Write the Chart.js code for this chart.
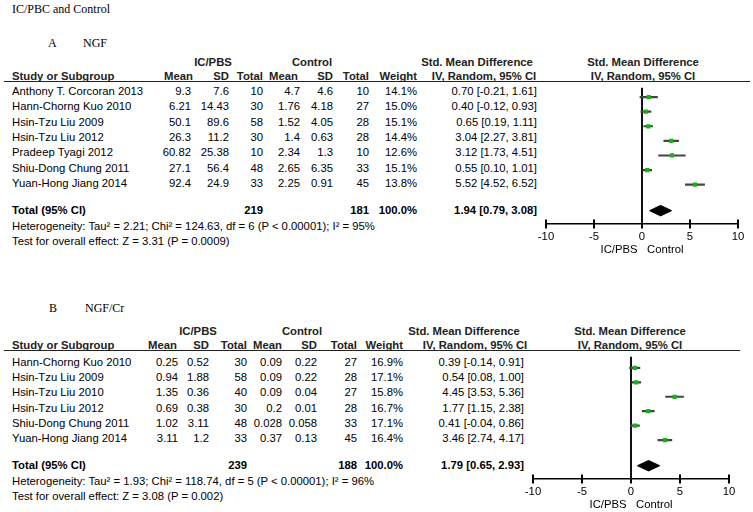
<!DOCTYPE html>
<html>
<head>
<meta charset="utf-8">
<script src="https://cdn.jsdelivr.net/npm/chart.js@4.4.1/dist/chart.umd.min.js"></script>
<style>
  html, body { margin: 0; padding: 0; background: #fff; overflow: hidden; }
  #page { position: relative; width: 753px; height: 512px; overflow: hidden;
          font-family: Arial, "Liberation Sans", sans-serif; font-size: 11.3px; color: #000; }
  .t { position: absolute; white-space: pre; line-height: 14px; height: 14px; }
  .serif { font-family: "Times New Roman", "Liberation Serif", serif; font-size: 12px; }
  .b { font-weight: bold; }
  .h { font-weight: bold; color: #222; }
  .rule { position: absolute; height: 0; border-top: 1px solid #222; }
  canvas { position: absolute; }
</style>
</head>
<body>
<div id="page"></div>
<script>
// Panel A - NGF
const studiesA = ['Anthony T. Corcoran 2013', 'Hann-Chorng Kuo 2010', 'Hsin-Tzu Liu 2009', 'Hsin-Tzu Liu 2012',
                  'Pradeep Tyagi 2012', 'Shiu-Dong Chung 2011', 'Yuan-Hong Jiang 2014'];
const icMeanA = [9.3, 6.21, 50.1, 26.3, 60.82, 27.1, 92.4];
const icSdA = [7.6, 14.43, 89.6, 11.2, 25.38, 56.4, 24.9];
const icNA = [10, 30, 58, 30, 10, 48, 33];
const ctMeanA = [4.7, 1.76, 1.52, 1.4, 2.34, 2.65, 2.25];
const ctSdA = [4.6, 4.18, 4.05, 0.63, 1.3, 6.35, 0.91];
const ctNA = [10, 27, 28, 28, 10, 33, 45];
const weightA = [14.1, 15.0, 15.1, 14.4, 12.6, 15.1, 13.8];
const smdA = [0.70, 0.40, 0.65, 3.04, 3.12, 0.55, 5.52];
const loA = [-0.21, -0.12, 0.19, 2.27, 1.73, 0.10, 4.52];
const hiA = [1.61, 0.93, 1.11, 3.81, 4.51, 1.01, 6.52];
const totalA = { icN: 219, ctN: 181, smd: 1.94, lo: 0.79, hi: 3.08 };
const hetA = 'Heterogeneity: Tau\u00b2 = 2.21; Chi\u00b2 = 124.63, df = 6 (P < 0.00001); I\u00b2 = 95%';
const testA = 'Test for overall effect: Z = 3.31 (P = 0.0009)';

// Panel B - NGF/Cr
const studiesB = ['Hann-Chorng Kuo 2010', 'Hsin-Tzu Liu 2009', 'Hsin-Tzu Liu 2010', 'Hsin-Tzu Liu 2012',
                  'Shiu-Dong Chung 2011', 'Yuan-Hong Jiang 2014'];
const icMeanB = [0.25, 0.94, 1.35, 0.69, 1.02, 3.11];
const icSdB = [0.52, 1.88, 0.36, 0.38, 3.11, 1.2];
const icNB = [30, 58, 40, 30, 48, 33];
const ctMeanB = [0.09, 0.09, 0.09, 0.2, 0.028, 0.37];
const ctSdB = [0.22, 0.22, 0.04, 0.01, 0.058, 0.13];
const ctNB = [27, 28, 27, 28, 33, 45];
const weightB = [16.9, 17.1, 15.8, 16.7, 17.1, 16.4];
const smdB = [0.39, 0.54, 4.45, 1.77, 0.41, 3.46];
const loB = [-0.14, 0.08, 3.53, 1.15, -0.04, 2.74];
const hiB = [0.91, 1.00, 5.36, 2.38, 0.86, 4.17];
const totalB = { icN: 239, ctN: 188, smd: 1.79, lo: 0.65, hi: 2.93 };
const hetB = 'Heterogeneity: Tau\u00b2 = 1.93; Chi\u00b2 = 118.74, df = 5 (P < 0.00001); I\u00b2 = 96%';
const testB = 'Test for overall effect: Z = 3.08 (P = 0.002)';

const xTicks = [-10, -5, 0, 5, 10];

Chart.defaults.font.family = 'Arial, "Liberation Sans", sans-serif';
Chart.defaults.font.size = 11.3;
Chart.defaults.color = '#000';

const page = document.getElementById('page');

function txt(x, y, s, align, cls) {
    const d = document.createElement('div');
    d.className = 't ' + (cls || '');
    d.textContent = s;
    d.style.left = x + 'px';
    d.style.top = (y - 7) + 'px';
    if (align === 'r') d.style.transform = 'translateX(-100%)';
    if (align === 'c') d.style.transform = 'translateX(-50%)';
    page.appendChild(d);
}

function rule(x1, x2, y) {
    const d = document.createElement('div');
    d.className = 'rule';
    d.style.left = x1 + 'px';
    d.style.width = (x2 - x1) + 'px';
    d.style.top = y + 'px';
    page.appendChild(d);
}

const ci = (m, l, h) => m.toFixed(2) + ' [' + l.toFixed(2) + ', ' + h.toFixed(2) + ']';

function panel(p, d) {
    // headers
    txt(p.groupX[0], p.lineY - 19, 'IC/PBS', 'c', 'h');
    txt(p.groupX[1], p.lineY - 19, 'Control', 'c', 'h');
    txt(p.smdX, p.lineY - 19, 'Std. Mean Difference', 'c', 'h');
    txt(p.plotX, p.lineY - 19, 'Std. Mean Difference', 'c', 'h');
    txt(12, p.lineY - 5, 'Study or Subgroup', 'l', 'h');
    ['Mean', 'SD', 'Total', 'Mean', 'SD', 'Total', 'Weight'].forEach((h, i) => txt(p.headR[i], p.lineY - 5, h, 'r', 'h'));
    txt(p.ciHeadX, p.lineY - 5, 'IV, Random, 95% CI', 'c', 'h');
    txt(p.plotX, p.lineY - 5, 'IV, Random, 95% CI', 'c', 'h');
    rule(4, p.ruleEnd, p.lineY);

    // study rows
    d.studies.forEach((s, i) => {
        const y = p.rowY0 + i * p.step;
        txt(12, y, s, 'l');
        [d.icMean[i], d.icSd[i], d.icN[i], d.ctMean[i], d.ctSd[i], d.ctN[i]]
            .forEach((v, k) => txt(p.colR[k], y, String(v), 'r'));
        txt(p.colR[6], y, d.weight[i].toFixed(1) + '%', 'r');
        txt(p.colR[7], y, ci(d.smd[i], d.lo[i], d.hi[i]), 'r');
    });
    txt(12, p.totalY, 'Total (95% CI)', 'l', 'b');
    txt(p.colR[2], p.totalY, String(d.total.icN), 'r', 'b');
    txt(p.colR[5], p.totalY, String(d.total.ctN), 'r', 'b');
    txt(p.colR[6], p.totalY, '100.0%', 'r', 'b');
    txt(p.colR[7], p.totalY, ci(d.total.smd, d.total.lo, d.total.hi), 'r', 'b');
    txt(12, p.totalY + 16, d.het, 'l');
    txt(12, p.totalY + 31, d.test, 'l');

    // forest plot
    const chartH = p.axisY - p.lineY;
    const cv = document.createElement('canvas');
    const cw = 753 - p.canvasLeft;
    cv.width = cw;
    cv.height = chartH + 37;
    cv.style.left = p.canvasLeft + 'px';
    cv.style.top = p.lineY + 'px';
    page.appendChild(cv);

    const yMin = -(p.rowY0 - p.lineY) / p.step;
    const yMax = yMin + chartH / p.step;
    const tRow = (p.totalY - p.rowY0) / p.step;
    const hh = 5.5 / p.step;
    const t = d.total;

    new Chart(cv, {
        type: 'scatter',
        data: {
            datasets: [
                {
                    type: 'scatter', order: 0,
                    data: d.smd.map((v, i) => ({ x: v, y: i })),
                    pointStyle: 'rect', pointRadius: 3, borderWidth: 0,
                    backgroundColor: '#12b312'
                },
                {
                    type: 'bar', order: 1, indexAxis: 'y',
                    data: d.lo.map((v, i) => ({ x: [v, d.hi[i]], y: i })),
                    backgroundColor: '#444', barThickness: 1.5, borderWidth: 0
                },
                {
                    type: 'scatter', order: 2, showLine: true, fill: 'shape', tension: 0,
                    data: [{ x: t.lo, y: tRow }, { x: t.smd, y: tRow - hh }, { x: t.hi, y: tRow },
                           { x: t.smd, y: tRow + hh }, { x: t.lo, y: tRow }],
                    borderColor: '#000', backgroundColor: '#000', borderWidth: 1, pointRadius: 0
                },
                {
                    // line of no effect
                    type: 'scatter', order: 3, showLine: true,
                    data: [{ x: 0, y: yMin }, { x: 0, y: yMax }],
                    borderColor: '#111', borderWidth: 2, pointRadius: 0
                },
                {
                    // tick marks crossing the axis line
                    type: 'scatter', order: 4, clip: false,
                    data: xTicks.map(v => ({ x: v, y: yMax })),
                    pointStyle: 'line', rotation: 90, pointRadius: 4.5,
                    borderColor: '#000', borderWidth: 2
                }
            ]
        },
        options: {
            responsive: false,
            animation: false,
            events: [],
            layout: { padding: { left: p.padL, right: cw - p.padL - p.plotW, top: 0, bottom: 0 } },
            plugins: { legend: { display: false }, tooltip: { enabled: false } },
            scales: {
                x: {
                    type: 'linear', min: -10, max: 10, offset: false,
                    afterBuildTicks: s => { s.ticks = xTicks.map(v => ({ value: v })); },
                    afterFit: s => { s.height = 37; },
                    ticks: { padding: 2, color: '#000', font: { size: 11.3 } },
                    grid: { drawOnChartArea: false, drawTicks: true, tickLength: 4, tickColor: 'rgba(0,0,0,0)' },
                    border: { display: true, color: '#000', width: 1.5 },
                    title: { display: true, text: 'IC/PBS   Control', color: '#000',
                             font: { size: 11.3 }, padding: { top: 0, bottom: 4 } }
                },
                y: { type: 'linear', reverse: true, min: yMin, max: yMax, offset: false, display: false }
            }
        }
    });
}

txt(12, 9, 'IC/PBC and Control', 'l', 'serif');
txt(48, 43, 'A', 'l', 'serif');
txt(83, 43, 'NGF', 'l', 'serif');
txt(49, 308, 'B', 'l', 'serif');
txt(85, 308, 'NGF/Cr', 'l', 'serif');

panel({
    lineY: 81, rowY0: 91, step: 15.3, totalY: 210, axisY: 224,
    groupX: [213, 312], smdX: 477, plotX: 643, ciHeadX: 484,
    headR: [193, 229, 263, 298, 333, 369, 417],
    colR: [191, 229, 263, 300, 333, 369, 417, 537],
    ruleEnd: 750, canvasLeft: 530, padL: 16, plotW: 192
}, {
    studies: studiesA, icMean: icMeanA, icSd: icSdA, icN: icNA, ctMean: ctMeanA, ctSd: ctSdA,
    ctN: ctNA, weight: weightA, smd: smdA, lo: loA, hi: hiA, total: totalA, het: hetA, test: testA
});

panel({
    lineY: 350, rowY0: 362, step: 15.2, totalY: 465, axisY: 479,
    groupX: [198, 302], smdX: 464, plotX: 630, ciHeadX: 475,
    headR: [177, 209, 247, 282, 317, 357, 403],
    colR: [178, 209, 247, 282, 317, 357, 403, 524],
    ruleEnd: 740, canvasLeft: 517, padL: 16, plotW: 196
}, {
    studies: studiesB, icMean: icMeanB, icSd: icSdB, icN: icNB, ctMean: ctMeanB, ctSd: ctSdB,
    ctN: ctNB, weight: weightB, smd: smdB, lo: loB, hi: hiB, total: totalB, het: hetB, test: testB
});
</script>
</body>
</html>
